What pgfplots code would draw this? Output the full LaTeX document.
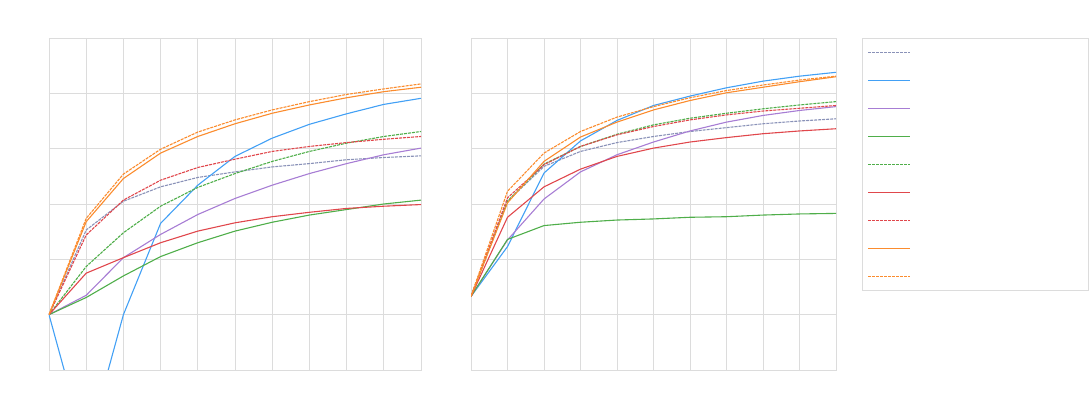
\documentclass[border=0pt]{standalone}
\usepackage{pgfplots}
\pgfplotsset{compat=1.18}
\definecolor{cgray}{HTML}{8A92B8}
\definecolor{cblue}{HTML}{42A0F5}
\definecolor{cpurple}{HTML}{A77DD4}
\definecolor{cgreen}{HTML}{4FAE4A}
\definecolor{cred}{HTML}{E0474C}
\definecolor{corange}{HTML}{FB8C2E}
\definecolor{cgrid}{HTML}{DCDCDC}
\pgfplotsset{
  panel/.style={
    scale only axis, height=332pt,
    xmin=0, xmax=10, ymin=0, ymax=6,
    xtick={0,...,10}, ytick={0,...,6},
    xticklabels={}, yticklabels={},
    major tick length=0pt,
    grid=major, grid style={cgrid, line width=0.8pt},
    axis line style={cgrid, line width=0.8pt},
    clip=true,
    every axis plot/.append style={line width=1.1pt, no markers},
  },
  dsh/.style={dash pattern=on 3pt off 1pt},
}
\begin{document}
\begin{tikzpicture}
\path (0,0) rectangle (1090pt,414pt);
% left panel
\begin{axis}[panel, width=372pt, at={(49pt,44pt)}, anchor=south west]
\addplot[cgray, dsh] coordinates {(0,1.0) (1,2.53) (2,3.05) (3,3.31) (4,3.48) (5,3.58) (6,3.67) (7,3.73) (8,3.80) (9,3.84) (10,3.87)};
\addplot[cblue] coordinates {(0,1.0) (1,-1.45) (2,1.0) (3,2.65) (4,3.34) (5,3.86) (6,4.19) (7,4.44) (8,4.63) (9,4.80) (10,4.91)};
\addplot[cpurple] coordinates {(0,1.0) (1,1.35) (2,2.03) (3,2.45) (4,2.81) (5,3.10) (6,3.34) (7,3.55) (8,3.73) (9,3.89) (10,4.01)};
\addplot[cgreen] coordinates {(0,1.0) (1,1.31) (2,1.70) (3,2.05) (4,2.30) (5,2.51) (6,2.67) (7,2.80) (8,2.90) (9,3.00) (10,3.07)};
\addplot[cgreen, dsh] coordinates {(0,1.0) (1,1.87) (2,2.48) (3,2.96) (4,3.30) (5,3.55) (6,3.77) (7,3.95) (8,4.10) (9,4.22) (10,4.31)};
\addplot[cred] coordinates {(0,1.0) (1,1.75) (2,2.03) (3,2.30) (4,2.51) (5,2.66) (6,2.77) (7,2.85) (8,2.92) (9,2.96) (10,2.99)};
\addplot[cred, dsh] coordinates {(0,1.0) (1,2.44) (2,3.07) (3,3.43) (4,3.66) (5,3.81) (6,3.95) (7,4.04) (8,4.11) (9,4.17) (10,4.22)};
\addplot[corange] coordinates {(0,1.0) (1,2.68) (2,3.46) (3,3.92) (4,4.22) (5,4.45) (6,4.64) (7,4.79) (8,4.92) (9,5.03) (10,5.11)};
\addplot[corange, dsh] coordinates {(0,1.0) (1,2.74) (2,3.54) (3,3.99) (4,4.30) (5,4.52) (6,4.70) (7,4.85) (8,4.98) (9,5.08) (10,5.17)};
\end{axis}
% right panel
\begin{axis}[panel, width=365pt, at={(471pt,44pt)}, anchor=south west]
\addplot[cgray, dsh] coordinates {(0,1.33) (1,3.05) (2,3.68) (3,3.95) (4,4.11) (5,4.22) (6,4.31) (7,4.38) (8,4.45) (9,4.50) (10,4.54)};
\addplot[cblue] coordinates {(0,1.33) (1,2.23) (2,3.56) (3,4.14) (4,4.51) (5,4.78) (6,4.95) (7,5.10) (8,5.22) (9,5.31) (10,5.38)};
\addplot[cpurple] coordinates {(0,1.33) (1,2.35) (2,3.09) (3,3.58) (4,3.89) (5,4.12) (6,4.32) (7,4.48) (8,4.60) (9,4.69) (10,4.76)};
\addplot[cgreen] coordinates {(0,1.33) (1,2.36) (2,2.61) (3,2.67) (4,2.71) (5,2.73) (6,2.76) (7,2.77) (8,2.80) (9,2.82) (10,2.83)};
\addplot[cgreen, dsh] coordinates {(0,1.33) (1,3.05) (2,3.72) (3,4.04) (4,4.26) (5,4.43) (6,4.55) (7,4.64) (8,4.72) (9,4.79) (10,4.85)};
\addplot[cred] coordinates {(0,1.33) (1,2.76) (2,3.31) (3,3.63) (4,3.86) (5,4.01) (6,4.12) (7,4.20) (8,4.27) (9,4.32) (10,4.36)};
\addplot[cred, dsh] coordinates {(0,1.33) (1,3.11) (2,3.71) (3,4.04) (4,4.25) (5,4.40) (6,4.52) (7,4.61) (8,4.68) (9,4.73) (10,4.78)};
\addplot[corange] coordinates {(0,1.33) (1,3.02) (2,3.77) (3,4.21) (4,4.48) (5,4.70) (6,4.87) (7,5.01) (8,5.11) (9,5.21) (10,5.30)};
\addplot[corange, dsh] coordinates {(0,1.33) (1,3.23) (2,3.92) (3,4.31) (4,4.57) (5,4.76) (6,4.92) (7,5.05) (8,5.15) (9,5.24) (10,5.31)};
\end{axis}
% legend box (entries have no text)
\begin{axis}[scale only axis, width=226pt, height=252pt, at={(862pt,124pt)}, anchor=south west,
  xmin=0, xmax=226, ymin=0, ymax=252, ticks=none,
  axis line style={cgrid, line width=0.8pt},
  every axis plot/.append style={line width=1.3pt, no markers}]
\addplot[cgray, dsh] coordinates {(6,237.5) (48,237.5)};
\addplot[cblue] coordinates {(6,209.5) (48,209.5)};
\addplot[cpurple] coordinates {(6,181.5) (48,181.5)};
\addplot[cgreen] coordinates {(6,153.5) (48,153.5)};
\addplot[cgreen, dsh] coordinates {(6,125.5) (48,125.5)};
\addplot[cred] coordinates {(6,97.5) (48,97.5)};
\addplot[cred, dsh] coordinates {(6,69.5) (48,69.5)};
\addplot[corange] coordinates {(6,41.5) (48,41.5)};
\addplot[corange, dsh] coordinates {(6,13.5) (48,13.5)};
\end{axis}
\end{tikzpicture}
\end{document}
